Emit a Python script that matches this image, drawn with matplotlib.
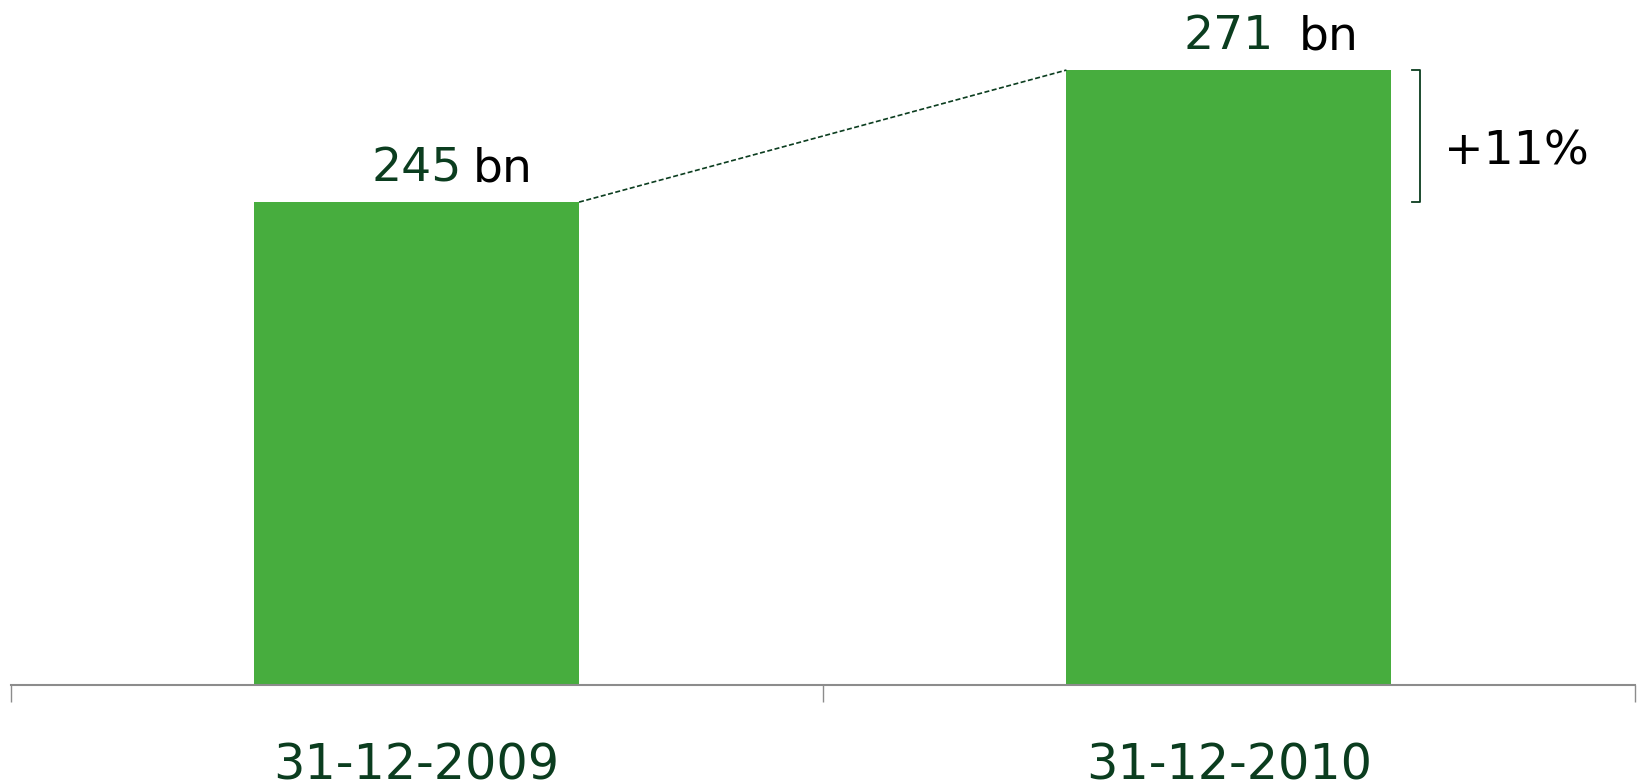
import matplotlib.pyplot as plt
import numpy as np

# data
dates = ["31-12-2009", "31-12-2010"]
values = [245, 271]
change_label = "+11%"

bar_color = "#47AD3E"
dark_green = "#0B3D1F"
axis_gray = "#8C8C8C"

fig = plt.figure(figsize=(16.43, 7.84), dpi=100)
ax = fig.add_axes([10.5 / 1643, 99.5 / 784, 1624.5 / 1643, 684.5 / 784])

x = np.arange(len(values))
bars = ax.bar(x, values, width=0.4, color=bar_color, zorder=2)

ax.set_xlim(-0.5, 1.5)
ax.set_ylim(150, 284.8)

# spines and ticks
for side in ["left", "right", "top"]:
    ax.spines[side].set_visible(False)
ax.spines["bottom"].set_color(axis_gray)
ax.spines["bottom"].set_linewidth(1.5)
ax.set_yticks([])

ax.set_xticks([-0.5, 0.5, 1.5])
ax.set_xticklabels([])
ax.tick_params(axis="x", which="major", length=12, width=1, color=axis_gray)
ax.set_xticks(x, minor=True)
ax.set_xticklabels(dates, minor=True, fontsize=35.5, color=dark_green)
ax.tick_params(axis="x", which="minor", length=0, pad=41)

# value labels
bn_offsets = [56, 70]
for xi, v, off in zip(x, values, bn_offsets):
    ax.annotate(str(v), (xi, v), xytext=(0, 21), textcoords="offset pixels",
                ha="center", va="baseline", fontsize=34, color=dark_green)
    ax.annotate("bn", (xi, v), xytext=(off, 21), textcoords="offset pixels",
                ha="left", va="baseline", fontsize=34, color="black")

# dashed connector between bar tops
ax.plot([x[0] + 0.2, x[1] - 0.2], [values[0], values[1]], linestyle=(0, (3, 1.5)),
        color=dark_green, linewidth=1.2, zorder=3)

# bracket showing the change
bx = 1.2358
tick = 0.0098
ax.plot([bx - tick, bx, bx, bx - tick], [values[1], values[1], values[0], values[0]],
        color=dark_green, linewidth=1.3, clip_on=False)
ax.annotate(change_label, (1.265, values[0]), xytext=(0, 38), textcoords="offset pixels",
            ha="left", va="baseline", fontsize=34, color="black")

fig.savefig("out.png", dpi=100)
